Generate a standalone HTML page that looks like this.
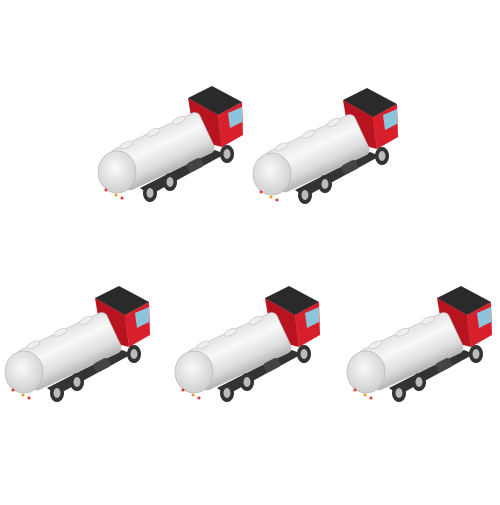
<!DOCTYPE html><html><head><style>body{margin:0;background:#fff}</style></head><body>
<svg width="500" height="500" viewBox="0 0 500 500" xmlns="http://www.w3.org/2000/svg">
<defs>
<linearGradient id="tk" x1="0" y1="0" x2="0" y2="1">
<stop offset="0" stop-color="#e4e4e4"/><stop offset="0.35" stop-color="#f8f8f8"/><stop offset="0.75" stop-color="#dcdcdc"/><stop offset="1" stop-color="#b4b4b4"/></linearGradient>
<radialGradient id="en" cx="0.45" cy="0.4" r="0.7"><stop offset="0" stop-color="#fafafa"/><stop offset="1" stop-color="#c8c8c8"/></radialGradient>
<g id="truck">
<polygon points="93,18 123,35 127,67 100,60" fill="#b81420"/>
<polygon points="123,35 147,22 148,55 127,67" fill="#d8202c"/>
<polygon points="93,18 117,6 147,22 123,35" fill="#2a2a2a"/>
<polygon points="133,33 147,27 147,42 135,48" fill="#8cc4dc"/>
<polygon points="45,108 120,70 130,74 55,115" fill="#333"/>
<ellipse cx="132" cy="74" rx="7" ry="9" fill="#333"/><ellipse cx="132" cy="74" rx="3.5" ry="5" fill="#bbb"/>
<g transform="rotate(-25 23 92)">
<rect x="23" y="70" width="98" height="44" rx="6" fill="url(#tk)" stroke="#c4c4c4" stroke-width="0.7"/>
<ellipse cx="42" cy="71" rx="7" ry="3" fill="#eee" stroke="#c8c8c8" stroke-width="0.7"/>
<ellipse cx="72" cy="71" rx="7" ry="3" fill="#eee" stroke="#c8c8c8" stroke-width="0.7"/>
<ellipse cx="100" cy="71" rx="7" ry="3" fill="#eee" stroke="#c8c8c8" stroke-width="0.7"/>
</g>
<ellipse cx="22" cy="92" rx="19" ry="21" fill="url(#en)" stroke="#bbb" stroke-width="0.7"/>
<rect x="92" y="80" width="16" height="10" rx="3" fill="#444" transform="rotate(-27 100 85)"/>
<ellipse cx="55" cy="113" rx="7" ry="9" fill="#333"/><ellipse cx="55" cy="113" rx="3.5" ry="5" fill="#bbb"/>
<ellipse cx="75" cy="102" rx="7" ry="9" fill="#333"/><ellipse cx="75" cy="102" rx="3.5" ry="5" fill="#bbb"/>
<circle cx="11" cy="110" r="1.5" fill="#e33"/><circle cx="21" cy="115" r="1.5" fill="#e9a020"/><circle cx="27" cy="118" r="1.5" fill="#e33"/>
</g>
</defs>
<use href="#truck" transform="translate(95,80)"/>
<use href="#truck" transform="translate(250,82)"/>
<use href="#truck" transform="translate(2,280)"/>
<use href="#truck" transform="translate(172,280)"/>
<use href="#truck" transform="translate(344,280)"/>
</svg>
</body></html>
